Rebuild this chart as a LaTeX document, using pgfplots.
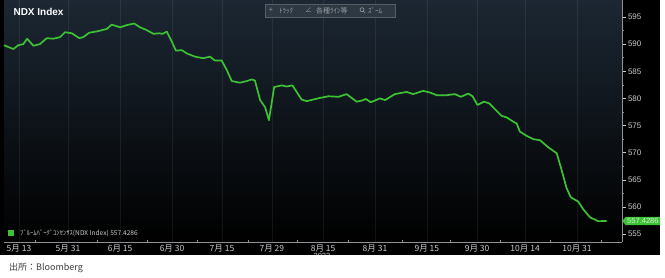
\documentclass[border=0pt]{standalone}
\usepackage{pgfplots}
\pgfplotsset{compat=1.18}
\usepackage{fontspec}
\setmainfont{Liberation Sans}
\newfontfamily\jp{Noto Sans CJK JP}
\usetikzlibrary{shapes.symbols}
\definecolor{bbgreen}{HTML}{3CC234}
\definecolor{bgtop}{HTML}{1C2733}
\definecolor{ticklab}{HTML}{C8CACC}
\definecolor{axgray}{HTML}{8E9296}
\begin{document}
\begin{tikzpicture}
\path[use as bounding box] (0pt,0pt) rectangle (665pt,277pt);
\fill[white] (0pt,0pt) rectangle (665pt,277pt);
\fill[black] (0pt,22pt) rectangle (660pt,277pt);
\shade[top color=bgtop, bottom color=black] (4pt,35pt) rectangle (622pt,277pt);
\begin{axis}[
  at={(4pt,35pt)}, anchor=south west,
  scale only axis, width=618pt, height=242pt,
  xmin=7.4, xmax=196.8, ymin=553.56, ymax=598.13,
  axis x line=bottom, axis y line=right,
  axis line style={draw=axgray, line width=0.8pt, -},
  xtick={12,27.0,43.0,58.9,74.2,89.5,105.2,121.1,137.0,152.4,167.1,183.0},
  xticklabels={5月 13,5月 31,6月 15,6月 30,7月 15,7月 29,8月 15,8月 31,9月 15,9月 30,10月 14,10月 31},
  minor xtick={16.9,35.9,51.2,66.6,82.2,97.2,112.8,129.4,144.1,159.4,174.7,190.6},
  xticklabel style={font=\jp\fontsize{8.5}{9}\selectfont, text=ticklab, anchor=base, yshift=-9pt},
  x tick style={draw=none},
  minor x tick style={draw=axgray, line width=0.6pt},
  minor tick length=2pt,
  xtick align=inside,
  ytick={555,560,...,595},
  minor ytick={557.5,562.5,...,592.5},
  ytick align=outside,
  major tick length=3.5pt,
  y tick style={draw=ticklab, line width=0.7pt},
  minor y tick style={draw=axgray, line width=0.5pt},
  yticklabel style={font=\fontsize{8}{9}\selectfont, text=ticklab, anchor=west, xshift=-1pt},
  /pgf/number format/assume math mode=true,
  xmajorgrids,
  major grid style={draw=white, opacity=0.07, line width=0.5pt},
  clip=false,
]
\addplot[bbgreen, line width=1.7pt, line join=round, no marks] coordinates {
(7.4,589.8)(10.25,589.1)(11.8,589.8)(13.3,590.0)(14.5,591.0)(16.4,589.7)(18.4,590.0)(20.5,591.1)(22.5,591.0)(24.6,591.3)(26.1,592.2)(28.2,592.0)(30.5,591.1)(31.7,591.3)(33.5,592.1)(36.3,592.4)(38.9,592.8)(40.4,593.6)(43.0,593.1)(45.0,593.5)(47.3,593.8)(49.1,593.1)(51.1,592.6)(53.2,591.9)(55.0,592.0)(56.0,591.9)(57.3,592.3)(58.8,590.5)(60.1,588.8)(61.9,588.9)(63.4,588.3)(65.9,587.7)(68.5,587.4)(70.5,587.7)(72.0,587.0)(74.1,587.0)(75.7,585.2)(77.2,583.2)(79.7,582.9)(81.8,583.2)(83.3,583.5)(84.3,583.3)(85.9,579.7)(87.4,578.4)(88.6,576.0)(90.2,582.1)(92.5,582.4)(94.0,582.2)(95.8,582.4)(97.1,581.2)(98.6,579.8)(100.2,579.5)(102.2,579.8)(104.3,580.1)(106.8,580.4)(109.9,580.3)(112.4,580.8)(115.5,579.4)(117.0,579.6)(118.3,579.9)(119.8,579.3)(122.6,580.0)(124.2,579.7)(127.2,580.8)(130.8,581.2)(132.8,580.8)(135.9,581.4)(137.9,581.1)(140.0,580.6)(143.1,580.6)(145.6,580.8)(147.4,580.3)(149.7,580.9)(151.0,580.4)(152.5,578.8)(154.5,579.4)(156.1,579.1)(157.9,578.0)(159.9,576.8)(161.5,576.5)(163.5,575.7)(164.5,575.4)(165.5,573.9)(167.6,573.1)(169.6,572.5)(171.7,572.3)(174.2,571.0)(176.8,569.9)(178.3,566.8)(179.8,563.5)(181.1,561.8)(183.4,561.0)(184.9,559.6)(187.0,558.1)(189.5,557.4)(192.1,557.4286)
};
\node[signal, signal to=west, signal pointer angle=100, fill=bbgreen, text=white!80!bbgreen,
  inner xsep=1.5pt, inner ysep=1.5pt, anchor=west, font=\fontsize{7.5}{8}\selectfont]
  at (axis cs:196.8,557.4286) {557.4286};
\end{axis}
% title
\node[anchor=west, text=white, font=\bfseries\fontsize{10}{11}\selectfont] at (10pt,265pt) {NDX Index};
% toolbar
\draw[draw=white!25!bgtop, fill=white!8!bgtop] (265pt,260pt) rectangle (395pt,273pt);
\begin{scope}[every node/.style={anchor=west, text=white!55!bgtop, font=\jp\fontsize{7}{8}\selectfont, inner sep=0pt}]
\node at (269pt,266.5pt) {+};
\node at (279pt,266.5pt) {ﾄﾗｯｸ};
\node at (305pt,266.5pt) {∠};
\node at (316pt,266.5pt) {各種ﾗｲﾝ等};
\node at (368pt,266.5pt) {ｽﾞｰﾑ};
\end{scope}
\draw[white!55!bgtop, line width=0.6pt] (362pt,267.3pt) circle (2pt) (363.4pt,265.9pt) -- (365.2pt,264.1pt);
% legend
\fill[bbgreen] (8pt,41pt) rectangle (14pt,47pt);
\node[anchor=west, text=ticklab, font=\jp\fontsize{6.6}{7}\selectfont, inner sep=0pt] at (20pt,44pt)
  {ﾌﾞﾙｰﾑﾊﾞｰｸﾞｺﾝｾﾝｻｽ(NDX Index) 557.4286};
% year label (clipped)
\node[text=ticklab, font=\fontsize{7.5}{8}\selectfont] at (322pt,21pt) {2022};
\fill[white] (0pt,0pt) rectangle (665pt,22pt);
% source
\node[anchor=west, text=black!75, font=\jp\fontsize{9}{10}\selectfont, inner sep=0pt] at (9pt,9pt) {出所：Bloomberg};
\end{tikzpicture}
\end{document}
